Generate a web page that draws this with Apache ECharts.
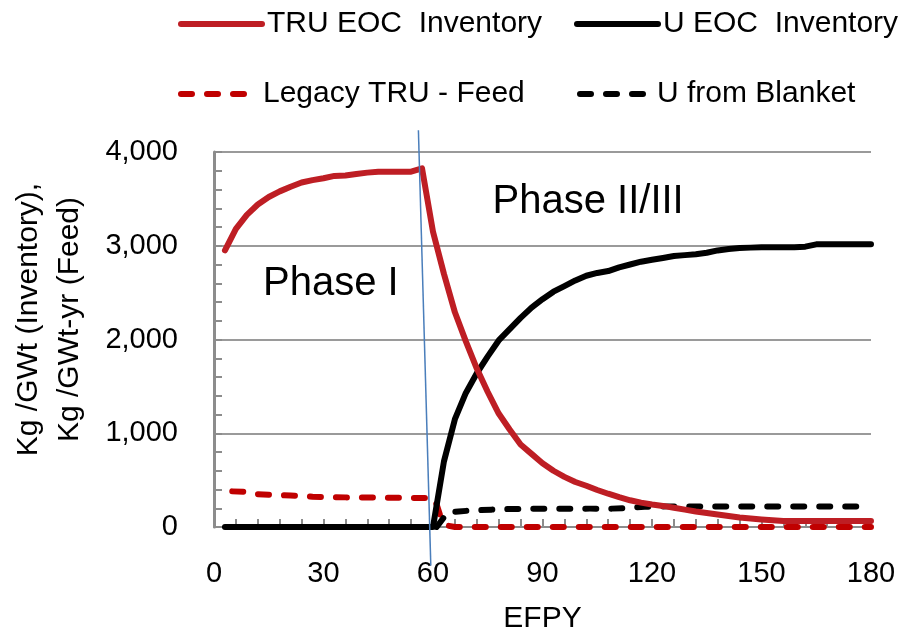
<!DOCTYPE html>
<html>
<head>
<meta charset="utf-8">
<script src="https://cdn.jsdelivr.net/npm/echarts@6/dist/echarts.min.js"></script>
<style>
html,body{margin:0;padding:0;background:#fff;}
#chart{width:906px;height:639px;}
</style>
</head>
<body>
<div id="chart"></div>
<script>
// ---- Data (EFPY, kg) ----
const xTicks = [0, 30, 60, 90, 120, 150, 180];
const yTicks = [0, 1000, 2000, 3000, 4000];

const truEOC = [
  [3,2950],[6,3180],[9,3330],[12,3440],[15,3520],[18,3580],[21,3630],[24,3675],[27,3700],
  [30,3720],[33,3745],[36,3750],[39,3765],[42,3780],[45,3790],[48,3790],[51,3790],[54,3790],
  [57,3825],[60,3150],[63,2700],[66,2290],[69,1980],[72,1690],[75,1440],[78,1210],[81,1040],
  [84,880],[87,780],[90,680],[93,600],[96,535],[99,480],[102,440],[105,395],[108,355],
  [111,318],[114,285],[117,260],[120,240],[123,225],[126,205],[129,185],[132,165],[135,150],
  [138,134],[141,118],[144,102],[147,90],[150,80],[153,72],[156,65],[159,63],[162,63],
  [165,63],[168,63],[171,63],[174,63],[177,63],[180,63]
];

const uEOC = [
  [3,0],[6,0],[9,0],[12,0],[15,0],[18,0],[21,0],[24,0],[27,0],[30,0],[33,0],[36,0],[39,0],
  [42,0],[45,0],[48,0],[51,0],[54,0],[57,0],[60,0],[63,700],[66,1150],[69,1430],[72,1640],
  [75,1820],[78,1990],[81,2110],[84,2230],[87,2340],[90,2430],[93,2510],[96,2570],[99,2630],
  [102,2680],[105,2710],[108,2730],[111,2770],[114,2800],[117,2830],[120,2850],[123,2870],
  [126,2890],[129,2900],[132,2910],[135,2925],[138,2950],[141,2965],[144,2975],[147,2980],
  [150,2985],[153,2985],[156,2985],[159,2985],[162,2990],[165,3015],[168,3015],[171,3015],
  [174,3015],[177,3015],[180,3015]
];

const legacyTRUFeed = [
  [5,380],[9,375],[12,350],[15,345],[18,340],[21,335],[24,332],[27,322],[30,320],[33,318],
  [36,316],[39,316],[42,315],[45,314],[48,312],[51,311],[54,310],[57,310],[60,310],[61,240],
  [62,120],[64,15],[66,0],[69,0],[72,0],[75,0],[78,0],[81,0],[84,0],[87,0],[90,0],[93,0],
  [96,0],[99,0],[102,0],[105,0],[108,0],[111,0],[114,0],[117,0],[120,0],[123,0],[126,0],
  [129,0],[132,0],[135,0],[138,0],[141,0],[144,0],[147,0],[150,0],[153,0],[156,0],[159,0],
  [162,0],[165,0],[168,0],[171,0],[174,0],[177,0],[180,0]
];

const uFromBlanket = [
  [61,0],[64,155],[67,165],[70,175],[73,180],[76,185],[79,190],[82,192],[85,193],[88,194],
  [91,195],[94,195],[97,195],[100,195],[103,196],[106,196],[109,196],[112,200],[115,210],
  [118,215],[121,218],[124,220],[127,220],[130,220],[133,220],[136,220],[139,220],[142,220],
  [145,220],[148,220],[151,220],[154,220],[157,220],[160,220],[163,220],[166,220],[169,220],
  [172,220],[175,220],[178,220],[180,220]
];

const phaseDivider = [[56.0, 4232], [59.4, -412]];
const phaseLabels = [
  {name: 'Phase I', value: [32.0, 2590]},
  {name: 'Phase II/III', value: [102.5, 3470]}
];

const seriesNames = ['TRU EOC  Inventory', 'U EOC  Inventory', 'Legacy TRU - Feed', 'U from Blanket'];

// ---- Chart ----
const FONT = '"Liberation Sans", Arial, sans-serif';
const chart = echarts.init(document.getElementById('chart'), null, {renderer: 'canvas'});

const legendText = pad => ({fontFamily: FONT, fontSize: 30, color: '#000', padding: [0, 0, 0, pad]});
const legendBase = {
  orient: 'horizontal',
  itemHeight: 2,
  itemStyle: {opacity: 0},
  lineStyle: {width: 6},
  selectedMode: false
};

chart.setOption({
  animation: false,
  backgroundColor: '#fff',
  grid: {left: 213, right: 35, top: 152, bottom: 108, containLabel: false},
  legend: [
    Object.assign({}, legendBase, {data: [seriesNames[0]], left: 173, top: 4, itemWidth: 81, textStyle: legendText(0)}),
    Object.assign({}, legendBase, {data: [seriesNames[1]], left: 569, top: 4, itemWidth: 81, textStyle: legendText(0)}),
    Object.assign({}, legendBase, {data: [seriesNames[2]], left: 173, top: 74, itemWidth: 72, textStyle: legendText(5)}),
    Object.assign({}, legendBase, {data: [seriesNames[3]], left: 572, top: 74, itemWidth: 72, textStyle: legendText(0)})
  ],
  xAxis: {
    type: 'value',
    min: xTicks[0], max: xTicks[xTicks.length - 1], interval: 30,
    name: 'EFPY', nameLocation: 'middle', nameGap: 77,
    nameTextStyle: {fontFamily: FONT, fontSize: 30, color: '#000'},
    axisLine: {show: true, onZero: false, lineStyle: {color: '#8c8c8c', width: 2}},
    axisTick: {show: true, inside: true, length: 8, lineStyle: {color: '#8c8c8c', width: 2}},
    minorTick: {show: true, splitNumber: 5, length: 8, lineStyle: {color: '#8c8c8c', width: 2}},
    splitLine: {show: false},
    axisLabel: {fontFamily: FONT, fontSize: 29, color: '#000', margin: 32}
  },
  yAxis: {
    type: 'value',
    min: yTicks[0], max: yTicks[yTicks.length - 1], interval: 1000,
    name: 'Kg /GWt (Inventory),\nKg /GWt-yr (Feed)', nameLocation: 'middle', nameGap: 124,
    nameTextStyle: {fontFamily: FONT, fontSize: 30, color: '#000', lineHeight: 41, padding: [0, 0, 0, 40]},
    axisLine: {show: true, lineStyle: {color: '#8c8c8c', width: 3}},
    axisTick: {show: true, inside: true, length: 8, lineStyle: {color: '#8c8c8c', width: 2}},
    minorTick: {show: true, splitNumber: 5, length: 8, lineStyle: {color: '#8c8c8c', width: 2}},
    splitLine: {show: true, lineStyle: {color: '#9a9a9a', width: 2}},
    axisLabel: {fontFamily: FONT, fontSize: 29, color: '#000', margin: 36,
      formatter: v => v.toLocaleString('en-US')}
  },
  series: [
    {name: seriesNames[2], type: 'line', data: legacyTRUFeed, showSymbol: false, symbol: 'none',
     lineStyle: {color: '#c00000', width: 6, type: [11, 15], cap: 'round', join: 'round'},
     itemStyle: {color: '#c00000'}, z: 2},
    {name: seriesNames[3], type: 'line', data: uFromBlanket, showSymbol: false, symbol: 'none',
     lineStyle: {color: '#000', width: 6, type: [11, 15], cap: 'round', join: 'round'},
     itemStyle: {color: '#000'}, z: 3},
    {name: seriesNames[1], type: 'line', data: uEOC, showSymbol: false, symbol: 'none',
     lineStyle: {color: '#000', width: 6, cap: 'round', join: 'round'},
     itemStyle: {color: '#000'}, z: 4},
    {name: seriesNames[0], type: 'line', data: truEOC, showSymbol: false, symbol: 'none',
     lineStyle: {color: '#be1e24', width: 6, cap: 'round', join: 'round'},
     itemStyle: {color: '#be1e24'}, z: 5},
    {name: 'divider', type: 'line', data: phaseDivider, showSymbol: false, symbol: 'none',
     clip: false, lineStyle: {color: '#4a7ebb', width: 1.5}, z: 6, silent: true},
    {name: 'phases', type: 'scatter', data: phaseLabels, symbolSize: 1,
     itemStyle: {color: 'rgba(0,0,0,0)'}, z: 7, silent: true,
     label: {show: true, position: 'inside', formatter: p => p.name,
       fontFamily: FONT, fontSize: 40, color: '#000', textBorderWidth: 0, opacity: 1}}
  ]
});
</script>
</body>
</html>
